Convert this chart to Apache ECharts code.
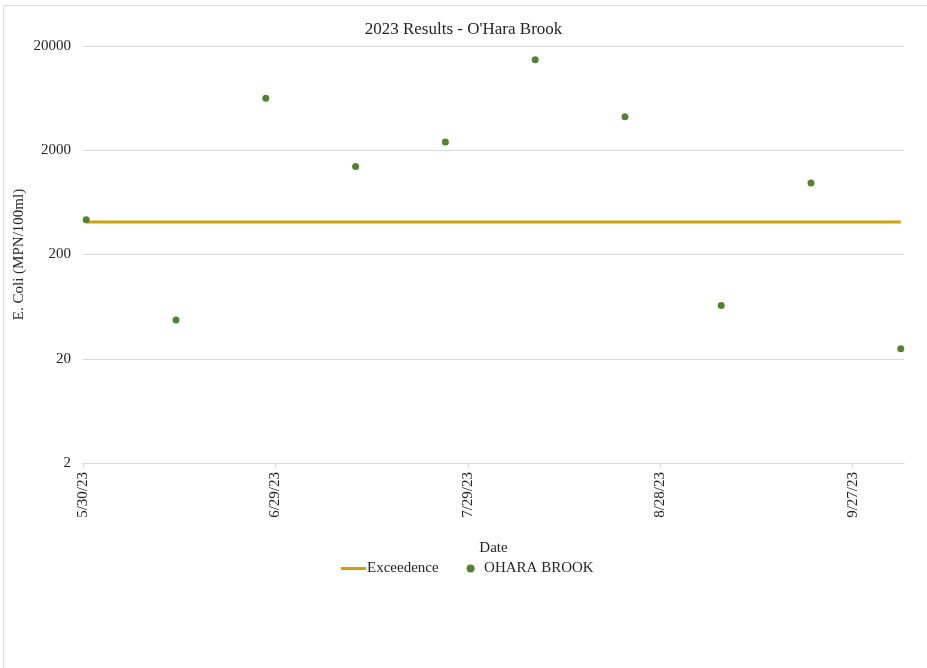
<!DOCTYPE html>
<html>
<head>
<meta charset="utf-8">
<title>2023 Results - O'Hara Brook</title>
<script src="https://cdn.jsdelivr.net/npm/echarts@6/dist/echarts.min.js"></script>
<style>
  html, body { margin: 0; padding: 0; background: #fff; }
  #chart { width: 927px; height: 668px; }
</style>
</head>
<body>
<div id="chart"></div>
<script>
// sample dates and E. coli results (MPN/100ml)
const sampleDates = ['2023-05-30', '2023-06-13', '2023-06-27', '2023-07-11', '2023-07-25',
  '2023-08-08', '2023-08-22', '2023-09-06', '2023-09-20', '2023-10-04']
const oharaValues = [430, 47, 6300, 1400, 2400, 14800, 4200, 65, 970, 25]
const exceedenceValues = [410, 410, 410, 410, 410, 410, 410, 410, 410, 410]
const yTickLabels = ['2', '20', '200', '2000', '20000']
const axisStart = '2023-05-30'
const axisEnd = '2023-10-05'

const DAY = 86400000
const dayOf = d => (Date.parse(d) - Date.parse(axisStart)) / DAY
// Excel date axis centres each point in its day
const xOf = d => dayOf(d) + 0.5
// log scale expressed as decades above 2
const yOf = v => Math.log10(v / 2)

const fmtDate = day => {
  const t = new Date(Date.parse(axisStart) + day * DAY)
  return (t.getUTCMonth() + 1) + '/' + t.getUTCDate() + '/' + String(t.getUTCFullYear()).slice(2)
}

const chart = echarts.init(document.getElementById('chart'))
const font = 'Liberation Serif'
const textColor = '#262626'
const lineColor = '#cfa10b'
const dotColor = '#548235'

chart.setOption({
  animation: false,
  textStyle: { fontFamily: font },
  graphic: [{
    type: 'rect',
    shape: { x: 3.5, y: 5.5, width: 1000, height: 1000 },
    style: { fill: 'none', stroke: '#d9d9d9', lineWidth: 1 },
    silent: true
  }],
  title: {
    text: "2023 Results - O'Hara Brook",
    left: 'center',
    top: 16,
    textStyle: { fontFamily: font, fontSize: 17, fontWeight: 'normal', color: textColor }
  },
  legend: {
    left: 341,
    top: 561,
    padding: 0,
    itemWidth: 25,
    itemHeight: 8,
    itemGap: 28,
    symbolKeepAspect: true,
    textStyle: { fontFamily: font, fontSize: 15, color: textColor, padding: [0, 0, 0, -4] },
    data: [
      { name: 'Exceedence', icon: 'path://M0,0L25,0L25,3L0,3Z', itemStyle: { color: lineColor } },
      { name: 'OHARA BROOK', icon: 'circle', itemStyle: { color: dotColor, opacity: 1 } }
    ]
  },
  grid: { left: 83, right: 23, top: 46, bottom: 205, containLabel: false },
  xAxis: {
    type: 'value',
    min: 0,
    max: dayOf(axisEnd),
    interval: 30,
    name: 'Date',
    nameLocation: 'middle',
    nameGap: 78,
    nameMoveOverlap: false,
    nameTextStyle: { fontFamily: font, fontSize: 15, color: textColor },
    axisLine: { show: true, lineStyle: { color: '#d9d9d9', width: 1 } },
    axisTick: { show: true, length: 5, lineStyle: { color: '#d9d9d9' } },
    splitLine: { show: false },
    axisLabel: {
      rotate: 90,
      margin: 9,
      fontFamily: font,
      fontSize: 15,
      color: textColor,
      showMaxLabel: false,
      formatter: v => fmtDate(v)
    }
  },
  yAxis: {
    type: 'value',
    min: 0,
    max: yTickLabels.length - 1,
    interval: 1,
    name: 'E. Coli (MPN/100ml)',
    nameLocation: 'middle',
    nameGap: 56,
    nameMoveOverlap: false,
    nameTextStyle: { fontFamily: font, fontSize: 15, color: textColor },
    axisLine: { show: false },
    axisTick: { show: false },
    splitLine: { lineStyle: { color: '#d9d9d9', width: 1 } },
    axisLabel: {
      margin: 12,
      fontFamily: font,
      fontSize: 15,
      color: textColor,
      formatter: v => yTickLabels[Math.round(v)]
    }
  },
  series: [
    {
      name: 'Exceedence',
      type: 'line',
      symbol: 'none',
      itemStyle: { color: lineColor },
      lineStyle: { color: lineColor, width: 3 },
      data: sampleDates.map((d, i) => [xOf(d), yOf(exceedenceValues[i])]),
      z: 2
    },
    {
      name: 'OHARA BROOK',
      type: 'scatter',
      symbol: 'circle',
      symbolSize: 7,
      itemStyle: { color: dotColor, opacity: 1 },
      data: sampleDates.map((d, i) => [xOf(d), yOf(oharaValues[i])]),
      z: 3
    }
  ]
})
</script>
</body>
</html>
